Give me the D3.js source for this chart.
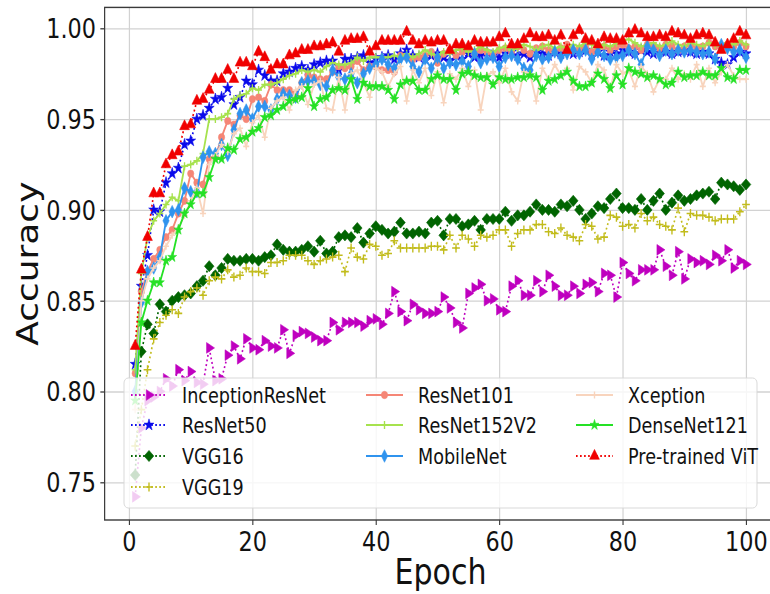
<!DOCTYPE html>
<html>
<head>
<meta charset="utf-8">
<script src="https://cdn.jsdelivr.net/npm/d3@7"></script>
<style>
  html, body { margin: 0; padding: 0; background: #fff; }
  svg { display: block; }
  text { font-family: 'DejaVu Sans', sans-serif; fill: #111; }
</style>
</head>
<body>
<div id="chart"></div>
<script>
// Accuracy per epoch (1..100)
const inceptionResNet = [
  0.742, 0.780, 0.795, 0.797, 0.800, 0.807, 0.803, 0.812, 0.806, 0.811,
  0.805, 0.804, 0.824, 0.806, 0.807, 0.820, 0.825, 0.818, 0.829, 0.824,
  0.823, 0.828, 0.825, 0.824, 0.834, 0.821, 0.831, 0.833, 0.832, 0.830,
  0.828, 0.828, 0.838, 0.834, 0.838, 0.838, 0.838, 0.836, 0.839, 0.840,
  0.837, 0.843, 0.855, 0.844, 0.839, 0.848, 0.845, 0.843, 0.843, 0.844,
  0.852, 0.846, 0.838, 0.835, 0.854, 0.857, 0.859, 0.850, 0.851, 0.845,
  0.844, 0.858, 0.861, 0.853, 0.853, 0.861, 0.855, 0.864, 0.858, 0.853,
  0.853, 0.858, 0.854, 0.859, 0.860, 0.855, 0.865, 0.864, 0.852, 0.871,
  0.865, 0.861, 0.867, 0.867, 0.867, 0.878, 0.869, 0.864, 0.877, 0.862,
  0.873, 0.871, 0.872, 0.870, 0.875, 0.872, 0.878, 0.868, 0.872, 0.870,
];
const resNet50 = [
  0.815, 0.858, 0.875, 0.900, 0.899, 0.915, 0.920, 0.923, 0.936, 0.938,
  0.950, 0.952, 0.956, 0.961, 0.962, 0.967, 0.958, 0.962, 0.971, 0.969,
  0.977, 0.974, 0.971, 0.971, 0.975, 0.976, 0.978, 0.979, 0.977, 0.980,
  0.981, 0.982, 0.982, 0.977, 0.983, 0.983, 0.984, 0.985, 0.981, 0.983,
  0.984, 0.985, 0.983, 0.986, 0.988, 0.985, 0.984, 0.983, 0.985, 0.986,
  0.984, 0.982, 0.985, 0.983, 0.986, 0.984, 0.985, 0.987, 0.985, 0.984,
  0.986, 0.987, 0.985, 0.986, 0.984, 0.987, 0.986, 0.985, 0.987, 0.986,
  0.988, 0.986, 0.987, 0.988, 0.986, 0.987, 0.985, 0.987, 0.986, 0.988,
  0.987, 0.986, 0.988, 0.987, 0.986, 0.988, 0.987, 0.986, 0.987, 0.988,
  0.987, 0.986, 0.987, 0.986, 0.983, 0.981, 0.980, 0.984, 0.987, 0.986,
];
const vgg16 = [
  0.754, 0.822, 0.837, 0.832, 0.848, 0.844, 0.850, 0.852, 0.853, 0.854,
  0.858, 0.861, 0.869, 0.864, 0.868, 0.873, 0.872, 0.872, 0.873, 0.873,
  0.872, 0.874, 0.875, 0.881, 0.878, 0.877, 0.877, 0.878, 0.880, 0.877,
  0.883, 0.876, 0.877, 0.885, 0.886, 0.885, 0.890, 0.882, 0.887, 0.891,
  0.889, 0.887, 0.888, 0.893, 0.887, 0.887, 0.888, 0.887, 0.893, 0.894,
  0.886, 0.895, 0.895, 0.891, 0.892, 0.894, 0.889, 0.895, 0.895, 0.895,
  0.899, 0.894, 0.897, 0.897, 0.899, 0.903, 0.900, 0.900, 0.899, 0.903,
  0.902, 0.905, 0.900, 0.895, 0.898, 0.902, 0.901, 0.906, 0.909, 0.901,
  0.901, 0.900, 0.906, 0.900, 0.905, 0.909, 0.900, 0.904, 0.908, 0.905,
  0.906, 0.908, 0.909, 0.910, 0.906, 0.915, 0.914, 0.913, 0.911, 0.914,
];
const vgg19 = [
  0.770, 0.790, 0.812, 0.829, 0.838, 0.842, 0.845, 0.843, 0.852, 0.855,
  0.857, 0.853, 0.861, 0.863, 0.862, 0.867, 0.863, 0.864, 0.868, 0.866,
  0.866, 0.865, 0.871, 0.871, 0.872, 0.875, 0.875, 0.875, 0.872, 0.870,
  0.872, 0.873, 0.874, 0.875, 0.866, 0.879, 0.874, 0.873, 0.881, 0.880,
  0.875, 0.876, 0.883, 0.879, 0.879, 0.879, 0.879, 0.879, 0.880, 0.880,
  0.878, 0.886, 0.879, 0.886, 0.884, 0.880, 0.886, 0.885, 0.886, 0.889,
  0.889, 0.880, 0.887, 0.889, 0.889, 0.892, 0.892, 0.888, 0.887, 0.890,
  0.886, 0.885, 0.883, 0.892, 0.891, 0.884, 0.885, 0.897, 0.896, 0.891,
  0.892, 0.890, 0.898, 0.894, 0.896, 0.892, 0.891, 0.889, 0.901, 0.888,
  0.898, 0.897, 0.897, 0.896, 0.894, 0.895, 0.895, 0.895, 0.899, 0.903,
];
const resNet101 = [
  0.810, 0.855, 0.866, 0.873, 0.878, 0.885, 0.889, 0.898, 0.905, 0.920,
  0.915, 0.914, 0.928, 0.929, 0.940, 0.949, 0.947, 0.952, 0.950, 0.961,
  0.962, 0.960, 0.969, 0.966, 0.966, 0.966, 0.964, 0.970, 0.974, 0.973,
  0.972, 0.972, 0.976, 0.979, 0.978, 0.979, 0.982, 0.977, 0.979, 0.979,
  0.977, 0.977, 0.976, 0.985, 0.984, 0.983, 0.984, 0.985, 0.987, 0.981,
  0.986, 0.988, 0.985, 0.987, 0.989, 0.986, 0.988, 0.987, 0.985, 0.988,
  0.989, 0.987, 0.990, 0.988, 0.986, 0.989, 0.990, 0.988, 0.987, 0.989,
  0.991, 0.988, 0.989, 0.990, 0.987, 0.989, 0.990, 0.988, 0.990, 0.991,
  0.989, 0.990, 0.988, 0.991, 0.990, 0.989, 0.991, 0.990, 0.988, 0.990,
  0.991, 0.989, 0.990, 0.992, 0.990, 0.989, 0.991, 0.990, 0.992, 0.990,
];
const resNet152V2 = [
  0.812, 0.865, 0.885, 0.894, 0.898, 0.903, 0.907, 0.905, 0.924, 0.925,
  0.927, 0.931, 0.950, 0.950, 0.951, 0.953, 0.961, 0.963, 0.964, 0.967,
  0.966, 0.969, 0.969, 0.970, 0.972, 0.974, 0.975, 0.977, 0.976, 0.977,
  0.976, 0.979, 0.981, 0.980, 0.980, 0.981, 0.984, 0.982, 0.984, 0.984,
  0.984, 0.984, 0.985, 0.984, 0.986, 0.984, 0.986, 0.988, 0.986, 0.985,
  0.987, 0.986, 0.988, 0.989, 0.987, 0.988, 0.990, 0.988, 0.987, 0.989,
  0.990, 0.988, 0.989, 0.991, 0.990, 0.988, 0.990, 0.991, 0.989, 0.990,
  0.989, 0.991, 0.990, 0.992, 0.991, 0.989, 0.991, 0.990, 0.992, 0.993,
  0.994, 0.992, 0.990, 0.991, 0.992, 0.990, 0.991, 0.993, 0.991, 0.990,
  0.992, 0.991, 0.990, 0.992, 0.991, 0.990, 0.992, 0.991, 0.993, 0.991,
];
const mobileNet = [
  0.800, 0.849, 0.866, 0.868, 0.874, 0.894, 0.899, 0.900, 0.912, 0.910,
  0.910, 0.929, 0.932, 0.931, 0.936, 0.930, 0.944, 0.953, 0.955, 0.950,
  0.957, 0.957, 0.955, 0.961, 0.964, 0.963, 0.962, 0.970, 0.971, 0.971,
  0.969, 0.968, 0.977, 0.973, 0.972, 0.975, 0.970, 0.975, 0.978, 0.980,
  0.983, 0.980, 0.978, 0.983, 0.984, 0.979, 0.976, 0.983, 0.978, 0.984,
  0.978, 0.981, 0.980, 0.982, 0.979, 0.986, 0.981, 0.983, 0.984, 0.979,
  0.984, 0.985, 0.983, 0.978, 0.977, 0.985, 0.983, 0.984, 0.987, 0.984,
  0.986, 0.988, 0.986, 0.988, 0.983, 0.987, 0.985, 0.983, 0.984, 0.985,
  0.988, 0.986, 0.980, 0.990, 0.988, 0.985, 0.988, 0.986, 0.988, 0.987,
  0.988, 0.987, 0.986, 0.987, 0.983, 0.991, 0.989, 0.987, 0.988, 0.984,
];
const xception = [
  0.790, 0.850, 0.862, 0.868, 0.872, 0.880, 0.886, 0.890, 0.897, 0.905,
  0.912, 0.898, 0.925, 0.930, 0.936, 0.932, 0.942, 0.945, 0.935, 0.948,
  0.952, 0.940, 0.956, 0.960, 0.962, 0.955, 0.966, 0.968, 0.958, 0.969,
  0.971, 0.956, 0.955, 0.973, 0.955, 0.975, 0.977, 0.970, 0.962, 0.978,
  0.976, 0.968, 0.975, 0.979, 0.960, 0.977, 0.970, 0.978, 0.963, 0.976,
  0.959, 0.975, 0.972, 0.978, 0.968, 0.977, 0.955, 0.974, 0.976, 0.970,
  0.978, 0.965, 0.960, 0.976, 0.975, 0.960, 0.978, 0.972, 0.980, 0.974,
  0.978, 0.966, 0.979, 0.976, 0.970, 0.980, 0.977, 0.967, 0.980, 0.975,
  0.977, 0.968, 0.979, 0.975, 0.965, 0.972, 0.972, 0.978, 0.972, 0.975,
  0.972, 0.980, 0.968, 0.978, 0.970, 0.976, 0.980, 0.974, 0.972, 0.972,
];
const denseNet121 = [
  0.795, 0.838, 0.850, 0.860, 0.860, 0.872, 0.874, 0.889, 0.898, 0.903,
  0.909, 0.909, 0.918, 0.928, 0.928, 0.934, 0.933, 0.939, 0.940, 0.943,
  0.945, 0.951, 0.952, 0.955, 0.957, 0.960, 0.961, 0.962, 0.967, 0.957,
  0.961, 0.962, 0.966, 0.967, 0.966, 0.972, 0.961, 0.970, 0.968, 0.968,
  0.968, 0.966, 0.961, 0.969, 0.971, 0.971, 0.966, 0.966, 0.972, 0.974,
  0.972, 0.972, 0.966, 0.975, 0.976, 0.974, 0.973, 0.973, 0.969, 0.973,
  0.972, 0.972, 0.973, 0.973, 0.974, 0.973, 0.966, 0.971, 0.972, 0.974,
  0.976, 0.971, 0.968, 0.968, 0.970, 0.975, 0.972, 0.967, 0.974, 0.969,
  0.978, 0.976, 0.975, 0.973, 0.974, 0.972, 0.969, 0.970, 0.976, 0.973,
  0.974, 0.974, 0.976, 0.974, 0.974, 0.978, 0.973, 0.972, 0.977, 0.977,
];
const pretrainedViT = [
  0.825, 0.867, 0.885, 0.909, 0.909, 0.925, 0.930, 0.932, 0.946, 0.947,
  0.960, 0.961, 0.966, 0.972, 0.972, 0.977, 0.972, 0.981, 0.981, 0.979,
  0.987, 0.984, 0.977, 0.980, 0.980, 0.985, 0.986, 0.988, 0.988, 0.990,
  0.990, 0.991, 0.992, 0.987, 0.993, 0.994, 0.994, 0.995, 0.987, 0.990,
  0.993, 0.993, 0.993, 0.993, 0.998, 0.993, 0.991, 0.993, 0.992, 0.993,
  0.993, 0.988, 0.991, 0.991, 0.990, 0.993, 0.992, 0.992, 0.992, 0.995,
  0.997, 0.991, 0.991, 0.994, 0.997, 0.995, 0.995, 0.996, 0.993, 0.996,
  0.988, 0.996, 0.999, 0.994, 0.993, 0.991, 0.995, 0.994, 0.994, 0.993,
  0.997, 0.999, 0.997, 0.995, 0.995, 0.996, 0.995, 0.998, 0.997, 0.996,
  0.994, 0.996, 0.997, 0.996, 0.992, 0.988, 0.991, 0.994, 0.998, 0.996,
];

const modelNames = ['InceptionResNet', 'ResNet50', 'VGG16', 'VGG19', 'ResNet101',
  'ResNet152V2', 'MobileNet', 'Xception', 'DenseNet121', 'Pre-trained ViT'];
const modelValues = [inceptionResNet, resNet50, vgg16, vgg19, resNet101,
  resNet152V2, mobileNet, xception, denseNet121, pretrainedViT];
const xTicks = [0, 20, 40, 60, 80, 100];
const yTicks = [0.75, 0.80, 0.85, 0.90, 0.95, 1.00];

// line / marker look for each model, same order as modelNames
const styles = [
  { color: '#bf00bf', dotted: true, marker: 'triRight', size: 50 },
  { color: '#0a0aeb', dotted: true, marker: 'star', size: 42 },
  { color: '#006400', dotted: true, marker: 'D', size: 62 },
  { color: '#c2bc1c', dotted: true, marker: 'plus', size: 4.5 },
  { color: '#f58676', dotted: false, marker: 'o', size: 42 },
  { color: '#a6e24e', dotted: false, marker: 'plus', size: 4 },
  { color: '#2f93ee', dotted: false, marker: 'd', size: 46 },
  { color: '#f8d4bd', dotted: false, marker: 'plus', size: 3.5 },
  { color: '#25e125', dotted: false, marker: 'star', size: 34 },
  { color: '#f00000', dotted: true, marker: 'tri', size: 56 },
];

// the reference picture is squeezed horizontally; draw in a wider box and let the viewBox squeeze it
const sx = 0.86;
const W = 770 / sx;
const H = 594;

const svg = d3.select('#chart')
  .append('svg')
  .attr('width', 770)
  .attr('height', H)
  .attr('viewBox', `0 0 ${W} ${H}`)
  .attr('preserveAspectRatio', 'none');

const x = d3.scaleLinear().domain([0, 100]).range([129 / sx, 746 / sx]);
const y = d3.scaleLinear().domain([0.75, 1.0]).range([482.3, 28.3]);
const plot = {
  left: x(-3.95), right: x(104.95), top: y(1.0115), bottom: 520,
};

// grid
svg.append('g')
  .attr('transform', `translate(0,${plot.bottom})`)
  .call(d3.axisBottom(x).tickValues(xTicks).tickSize(-(plot.bottom - plot.top)).tickFormat(''))
  .call((g) => g.select('.domain').remove())
  .call((g) => g.selectAll('line').attr('stroke', '#d2d2d2').attr('stroke-width', 1.4));
svg.append('g')
  .attr('transform', `translate(${plot.left},0)`)
  .call(d3.axisLeft(y).tickValues(yTicks).tickSize(-(plot.right - plot.left)).tickFormat(''))
  .call((g) => g.select('.domain').remove())
  .call((g) => g.selectAll('line').attr('stroke', '#d2d2d2').attr('stroke-width', 1.3));

svg.append('clipPath')
  .attr('id', 'clip')
  .append('rect')
  .attr('x', plot.left)
  .attr('y', plot.top)
  .attr('width', plot.right - plot.left)
  .attr('height', plot.bottom - plot.top);

const markerPath = (st) => {
  if (st.marker === 'plus') {
    const r = st.size;
    return `M${-r},0H${r}M0,${-r}V${r}`;
  }
  const types = {
    tri: d3.symbolTriangle,
    triRight: d3.symbolTriangle,
    star: d3.symbolStar,
    D: d3.symbolSquare,
    d: d3.symbolDiamond,
    o: d3.symbolCircle,
  };
  return d3.symbol(types[st.marker], st.size)();
};
const markerRotate = (st) => {
  if (st.marker === 'triRight') return 90;
  if (st.marker === 'D') return 45;
  return 0;
};
const styleMarker = (sel, st) => {
  if (st.marker === 'plus') {
    sel.attr('fill', 'none').attr('stroke', st.color).attr('stroke-width', 1.6);
  } else {
    sel.attr('fill', st.color).attr('stroke', st.color).attr('stroke-width', 0.6);
  }
};
const styleLine = (sel, st) => {
  sel.attr('fill', 'none')
    .attr('stroke', st.color)
    .attr('stroke-width', st.dotted ? 1.9 : 2.1)
    .attr('stroke-dasharray', st.dotted ? '1.9,2.8' : null);
};

const line = d3.line()
  .x((d, i) => x(i + 1))
  .y((d) => y(d));

const marks = svg.append('g').attr('clip-path', 'url(#clip)');
modelValues.forEach((values, k) => {
  const st = styles[k];
  const g = marks.append('g');
  g.append('path').datum(values).attr('d', line).call(styleLine, st);
  g.selectAll('path.m')
    .data(values)
    .join('path')
    .attr('class', 'm')
    .attr('d', markerPath(st))
    .attr('transform', (d, i) => `translate(${x(i + 1)},${y(d)}) rotate(${markerRotate(st)})`)
    .call(styleMarker, st);
});

// frame (right spine lies outside the picture)
svg.append('rect')
  .attr('x', plot.left)
  .attr('y', plot.top)
  .attr('width', plot.right - plot.left)
  .attr('height', plot.bottom - plot.top)
  .attr('fill', 'none')
  .attr('stroke', '#3a3a3a')
  .attr('stroke-width', 1.4);

// axes
svg.append('g')
  .attr('transform', `translate(0,${plot.bottom})`)
  .call(d3.axisBottom(x).tickValues(xTicks).tickSize(5).tickFormat(d3.format('d')))
  .call((g) => g.select('.domain').remove())
  .call((g) => g.selectAll('line').attr('stroke', '#3a3a3a').attr('stroke-width', 1.3))
  .call((g) => g.selectAll('text')
    .attr('y', 31).attr('dy', 0)
    .style('font-size', '26px')
    .style('font-family', "'DejaVu Sans', sans-serif")
    .attr('fill', '#111'));

svg.append('g')
  .attr('transform', `translate(${plot.left},0)`)
  .call(d3.axisLeft(y).tickValues(yTicks).tickSize(5).tickPadding(5).tickFormat(d3.format('.2f')))
  .call((g) => g.select('.domain').remove())
  .call((g) => g.selectAll('line').attr('stroke', '#3a3a3a').attr('stroke-width', 1.3))
  .call((g) => g.selectAll('text')
    .attr('dy', '0.36em')
    .style('font-size', '26px')
    .style('font-family', "'DejaVu Sans', sans-serif")
    .attr('fill', '#111'));

svg.append('text')
  .attr('x', (plot.left + plot.right) / 2)
  .attr('y', 584)
  .attr('text-anchor', 'middle')
  .style('font-size', '35px')
  .text('Epoch');

svg.append('text')
  .attr('transform', `translate(${38 / sx},${(plot.top + plot.bottom) / 2}) rotate(-90)`)
  .attr('text-anchor', 'middle')
  .style('font-size', '36px')
  .text('Accuracy');

// legend
const legend = svg.append('g');
legend.append('rect')
  .attr('x', 124 / sx)
  .attr('y', 378)
  .attr('width', (757 - 124) / sx)
  .attr('height', 130)
  .attr('rx', 5)
  .attr('fill', '#fff')
  .attr('fill-opacity', 0.8)
  .attr('stroke', '#d6d6d6')
  .attr('stroke-width', 1);

const colHandle = [[131, 167], [366, 403], [576, 613]];
const colText = [182, 418, 628];
const rowY = [395, 425, 456, 487];
const slot = (k) => (k < 4 ? [0, k] : k < 7 ? [1, k - 4] : [2, k - 7]);

modelNames.forEach((name, k) => {
  const st = styles[k];
  const [c, r] = slot(k);
  const cy = rowY[r];
  const x0 = colHandle[c][0] / sx;
  const x1 = colHandle[c][1] / sx;
  const item = legend.append('g');
  item.append('path')
    .attr('d', `M${x0},${cy}H${x1}`)
    .call(styleLine, st);
  item.append('path')
    .attr('d', markerPath(st))
    .attr('transform', `translate(${(x0 + x1) / 2},${cy}) rotate(${markerRotate(st)})`)
    .call(styleMarker, st);
  item.append('text')
    .attr('transform', `translate(${colText[c] / sx},${cy}) scale(0.93,1)`)
    .attr('dy', '0.36em')
    .style('font-size', '22px')
    .text(name);
});
</script>
</body>
</html>
